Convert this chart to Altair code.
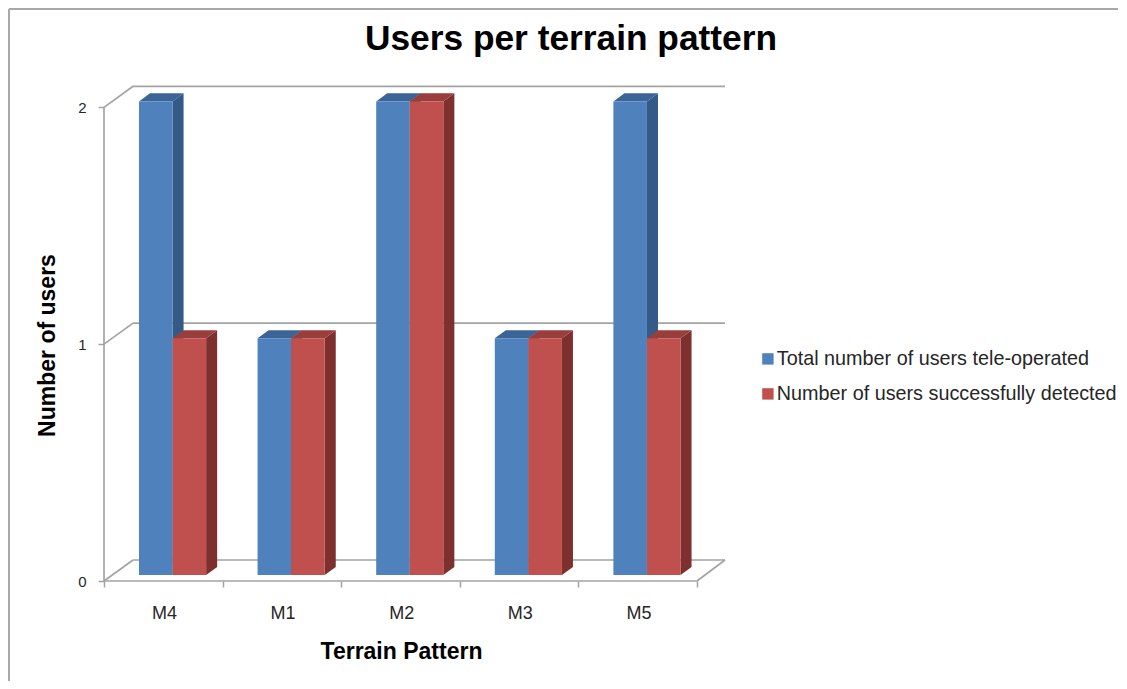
import altair as alt
import pandas as pd

categories = ["M4", "M1", "M2", "M3", "M5"]
series_names = ["Total number of users tele-operated", "Number of users successfully detected"]
total_users = [2, 1, 2, 1, 2]
detected_users = [1, 1, 2, 1, 1]
front_colors = ["#4F81BD", "#C0504D"]
top_colors = ["#3B6497", "#9A3E3B"]
side_colors = ["#345A88", "#7D302E"]

FONT = "Liberation Sans"
GRID = "#a3a3a3"
X_MAX, Y_MAX = 5.236, 2.09
WALL_X, WALL_Y = 0.245, 0.0887      # depth of the 3D box, in data units
BAR_DX, BAR_DY = 0.093, 0.034       # depth of a bar
BASE_X, BASE_Y = 0.295, 0.025       # where a bar starts inside its category
BAR_W = 0.283

xs = alt.Scale(domain=[0, X_MAX], nice=False, zero=False)
ys = alt.Scale(domain=[0, Y_MAX], nice=False, zero=False)

# box lines
lines = []
for v in [0, 1, 2]:
    lines.append(dict(x=0, y=v, x2=WALL_X, y2=v + WALL_Y))
    lines.append(dict(x=WALL_X, y=v + WALL_Y, x2=X_MAX, y2=v + WALL_Y))
lines.append(dict(x=0, y=0, x2=5, y2=0))
lines.append(dict(x=5, y=0, x2=X_MAX, y2=WALL_Y))
lines.append(dict(x=0, y=0, x2=0, y2=2))

x_axis = alt.Axis(
    values=[0, 1, 2, 3, 4, 5],
    labelExpr="%r[datum.value] || ''" % (categories,),
    labelOffset=60, labelFont=FONT, labelFontSize=18, labelColor="#262626", labelPadding=17,
    labelFlush=False, labelBound=False, labelOverlap=False,
    tickSize=6, tickColor=GRID, tickWidth=1.5, domain=False, grid=False,
    title="Terrain Pattern", titleFont=FONT, titleFontSize=23, titleFontWeight="bold", titleColor="black",
    titleX=297, titleY=70, titleBaseline="middle", titleAnchor="middle", titleAlign="center",
)
y_axis = alt.Axis(
    tickCount=3, tickMinStep=1, format="d",
    labelFont=FONT, labelFontSize=15, labelColor="#262626", labelPadding=12, labelOverlap=False,
    labelFlush=False, labelBound=False,
    tickSize=6, tickColor=GRID, tickWidth=1.5, domain=False, grid=False,
    title="Number of users", titleFont=FONT, titleFontSize=23, titleFontWeight="bold", titleColor="black",
    titleX=-57, titleY=259, titleBaseline="middle", titleAnchor="middle", titleAlign="center", titleAngle=270,
)
X = alt.X("x:Q", scale=xs, axis=x_axis)
Y = alt.Y("y:Q", scale=ys, axis=y_axis)

box = alt.Chart(pd.DataFrame(lines)).mark_rule(color=GRID, strokeWidth=1.7).encode(
    x=X, y=Y, x2="x2:Q", y2="y2:Q",
)

layers = [box]
color_scale = alt.Scale(domain=series_names, range=front_colors)
legend = alt.Legend(
    title=None, orient="none", legendX=654, legendY=263, symbolType="square", symbolSize=130,
    symbolStrokeWidth=0, labelFont=FONT, labelFontSize=19.8, labelColor="#262626", labelLimit=400,
    rowPadding=14, symbolOffset=0, labelOffset=alt.ExprRef("-1"),
)

for s, values in enumerate([total_users, detected_users]):
    front, side, top = [], [], []
    for i, (cat, v) in enumerate(zip(categories, values)):
        x0 = i + BASE_X + s * BAR_W
        x1 = x0 + BAR_W
        y0, y1 = BASE_Y, v + BASE_Y
        front.append(dict(cat=cat, series=series_names[s], x=x0, x2=x1, y=y0, y2=y1, value=v))
        side += [dict(cat=cat, x=x1, y=y0, y2=y1), dict(cat=cat, x=x1 + BAR_DX, y=y0 + BAR_DY, y2=y1 + BAR_DY)]
        top += [dict(cat=cat, y=y1, x=x0, x2=x1), dict(cat=cat, y=y1 + BAR_DY, x=x0 + BAR_DX, x2=x1 + BAR_DX)]
    layers.append(alt.Chart(pd.DataFrame(side)).mark_area(color=side_colors[s], interpolate="linear").encode(
        x=X, y=Y, y2="y2:Q", detail="cat:N"))
    layers.append(alt.Chart(pd.DataFrame(top)).mark_area(color=top_colors[s], orient="horizontal", interpolate="linear").encode(
        y=Y, x=X, x2="x2:Q", detail="cat:N"))
    layers.append(alt.Chart(pd.DataFrame(front)).mark_bar().encode(
        x=X, x2="x2:Q", y=Y, y2="y2:Q",
        color=alt.Color("series:N", scale=color_scale, legend=legend),
    ))

border = pd.DataFrame({"k": [0]})
layers.append(alt.Chart(border).mark_rule(color="#a8a8a8", strokeWidth=2).encode(
    x=alt.value(-95), y=alt.value(-77), y2=alt.value(600)))
layers.append(alt.Chart(border).mark_rule(color="#a8a8a8", strokeWidth=2).encode(
    x=alt.value(-95), x2=alt.value(1014), y=alt.value(-77)))

chart = alt.layer(*layers).properties(
    width=621, height=495,
    title=alt.TitleParams(
        "Users per terrain pattern", anchor="start", font=FONT, fontSize=35.3, fontWeight="bold",
        color="black", dx=357, dy=53,
    ),
    autosize=alt.AutoSizeParams(type="none"),
    padding={"left": 96, "top": 78, "right": 394, "bottom": 100},
    background="white",
).configure_view(stroke=None)

chart.save("out.html", embed_options={"renderer": "svg", "actions": False})
